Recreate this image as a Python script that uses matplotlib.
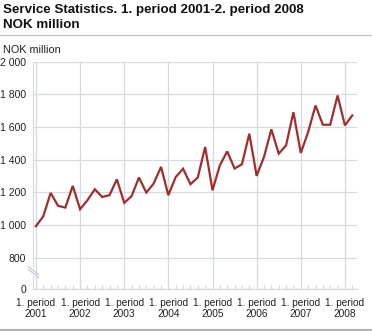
import numpy as np
import matplotlib
matplotlib.use("Agg")
import matplotlib.pyplot as plt
from matplotlib.lines import Line2D
from matplotlib.patches import Rectangle

plt.rcParams['font.family'] = ['Liberation Sans', 'DejaVu Sans']

# bimonthly periods, 1. period 2001 - 2. period 2008
years = [2001, 2002, 2003, 2004, 2005, 2006, 2007, 2008]
periods_per_year = 6
values = [
    992, 1053, 1196, 1117, 1106, 1239,   # 2001
    1096, 1151, 1218, 1171, 1182, 1279,  # 2002
    1135, 1176, 1290, 1198, 1253, 1355,  # 2003
    1182, 1293, 1344, 1249, 1290, 1477,  # 2004
    1212, 1365, 1450, 1345, 1371, 1558,  # 2005
    1300, 1416, 1585, 1436, 1487, 1690,  # 2006
    1440, 1568, 1731, 1613, 1613, 1792,  # 2007
    1609, 1670,                          # 2008
]
y_ticks = [0, 800, 1000, 1200, 1400, 1600, 1800, 2000]
y_labels = ["0", "800", "1 000", "1 200", "1 400", "1 600", "1 800", "2 000"]
x_labels = [f"1. period\n{y}" for y in years]

# broken axis: 0-800 squeezed into a short stretch
BREAK = 800
SQUEEZE = 0.2425


def fwd(v):
    v = np.asarray(v, dtype=float)
    return np.where(v >= BREAK, v, BREAK - (BREAK - v) * SQUEEZE)


def inv(u):
    u = np.asarray(u, dtype=float)
    return np.where(u >= BREAK, u, BREAK - (BREAK - u) / SQUEEZE)


W, H = 372, 331
fig = plt.figure(figsize=(W / 100, H / 100), dpi=100)


def fx(px):
    return px / W


def fy(py):
    return 1 - py / H


GRID = '#d6d9df'
LINE = '#a32d2b'

ax = fig.add_axes([fx(33), fy(289.3), fx(356.7) - fx(33), fy(61.5) - fy(289.3)])
ax.set_yscale('function', functions=(fwd, inv))

x = np.arange(len(values))
ax.plot(x, values, color=LINE, lw=1.6, solid_joinstyle='miter', zorder=3)

ax.set_ylim(0, 2000)
ax.set_xlim(-0.4, 43.6)
ax.set_yticks(y_ticks)
ax.set_yticklabels(y_labels)
ax.set_xticks(np.arange(len(years)) * periods_per_year)
ax.set_xticklabels(x_labels)
ax.set_xticks(x, minor=True)

ax.grid(True, which='major', color=GRID, lw=0.9)
for s in ['top', 'right']:
    ax.spines[s].set_visible(False)
for s in ['left', 'bottom']:
    ax.spines[s].set_color(GRID)
    ax.spines[s].set_linewidth(0.9)

ax.tick_params(axis='y', length=0, pad=5, labelsize=7.6, colors='#222222')
ax.tick_params(axis='x', which='major', length=0, pad=6, labelsize=7.3, colors='#222222')
ax.tick_params(axis='x', which='minor', direction='in', length=3, width=0.8, color=GRID)
for lab in ax.get_xticklabels():
    lab.set_linespacing(1.15)
    lab.set_multialignment('center')

# axis break mark
fig.add_artist(Rectangle((fx(31), fy(276)), fx(5), fy(268) - fy(276),
                         facecolor='white', edgecolor='none', zorder=5))
for dy in (0, 3):
    fig.add_artist(Line2D([fx(28.5), fx(38.5)], [fy(266.5 + dy), fy(274.5 + dy)],
                          color='#c4c8cf', lw=0.9, zorder=6))

# titles
fig.text(fx(3), fy(13.5), "Service Statistics. 1. period 2001-2. period 2008",
         fontsize=9.6, fontweight='bold', va='baseline', ha='left', color='#111111')
fig.text(fx(3), fy(28.5), "NOK million",
         fontsize=9.6, fontweight='bold', va='baseline', ha='left', color='#111111')
fig.text(fx(3), fy(53), "NOK million", fontsize=7.8, va='baseline', ha='left', color='#222222')

fig.add_artist(Line2D([0, 1], [fy(35), fy(35)], color='#c6c6c6', lw=1.0))
fig.add_artist(Line2D([0, 1], [fy(329.5), fy(329.5)], color='#b4b4b4', lw=1.5))

fig.savefig("out.png", dpi=100)
